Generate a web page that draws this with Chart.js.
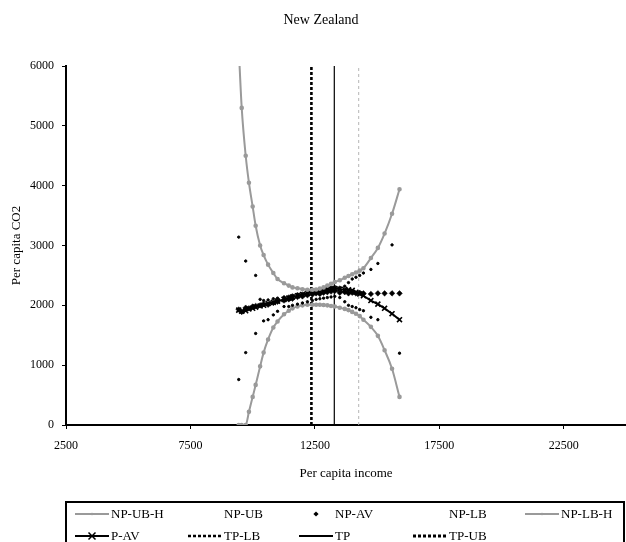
<!DOCTYPE html>
<html>
<head>
<meta charset="utf-8">
<title>New Zealand</title>
<script src="https://cdn.jsdelivr.net/npm/chart.js"></script>
<style>
  html, body { margin: 0; padding: 0; background: #fff; }
  #wrap { width: 626px; height: 542px; }
</style>
</head>
<body>
<div id="wrap"><canvas id="chart" width="626" height="542"></canvas></div>
<script>
/* ===== data ===== */
const income = [
  9440, 9560, 9720, 9850, 10000, 10120, 10300, 10440, 10620, 10830,
  11000, 11260, 11450, 11600, 11800, 12000, 12200, 12400, 12550, 12700,
  12850, 13000, 13150, 13300, 13500, 13700, 13850, 14000, 14150, 14300,
  14450, 14750, 15030, 15300, 15600, 15900
];
const npUbH = [
  6300, 5300, 4500, 4050, 3650, 3330, 3000, 2840, 2680, 2540,
  2440, 2370, 2330, 2300, 2285, 2270, 2260, 2260, 2265, 2280,
  2300, 2330, 2360, 2390, 2420, 2460, 2490, 2520, 2550, 2580,
  2620, 2790, 2960, 3200, 3530, 3940
];
const npUb = [
  3140, null, 2740, null, null, 2500, 2100, 2080, 2090, 2110,
  2120, 2140, 2150, 2170, 2190, 2200, 2220, 2240, 2260, 2270,
  2280, 2290, 2300, 2310, 2300, 2320, 2380, 2440, 2470, 2500,
  2540, 2600, 2700, null, 3010, null
];
const npAv = [
  1930, 1890, 1960, 1950, 1980, 1990, 2000, 2020, 2010, 2040,
  2060, 2080, 2100, 2110, 2140, 2150, 2170, 2180, 2200, 2190,
  2210, 2220, 2230, 2240, 2210, 2220, 2200, 2210, 2200, 2210,
  2200, 2190, 2200, 2200, 2200, 2200
];
const npLb = [
  760, null, 1210, null, null, 1530, null, 1740, 1760, 1840,
  1900, 1980, 1980, 2000, 2020, 2040, 2060, 2080, 2100, 2110,
  2120, 2130, 2140, 2150, 2130, 2060, 2000, 1980, 1960, 1930,
  1910, 1800, 1760, null, null, 1200
];
const npLbH = [
  0, 0, 0, 220, 470, 670, 980, 1210, 1430, 1630,
  1730, 1850, 1910, 1950, 1980, 2000, 2010, 2010, 2010, 2010,
  2005, 2000, 1990, 1980, 1960, 1940, 1920, 1890, 1860, 1820,
  1760, 1640, 1490, 1250, 940, 470
];
const pAv = [
  1920, 1900, 1910, 1940, 1950, 1970, 1990, 2000, 2030, 2050,
  2070, 2100, 2120, 2140, 2160, 2180, 2200, 2220, 2230, 2240,
  2250, 2260, 2270, 2280, 2270, 2265, 2260, 2250, 2220, 2190,
  2160, 2080, 2020, 1950, 1860, 1760
];
const turningPoints = [12360, 13280, 14260]; // TP-LB, TP, TP-UB
const xTicks = [2500, 7500, 12500, 17500, 22500];
const yTicks = [0, 1000, 2000, 3000, 4000, 5000, 6000];

/* ===== helpers ===== */
const GRAY = "#9a9a9a";
const FONT = "'Liberation Serif', 'Times New Roman', serif";

function pts(vals) {
  return income
    .map((x, i) => ({ x: x, y: vals[i] }))
    .filter((p) => p.y !== null);
}

function vline(x) {
  return [
    { x: x, y: yTicks[0] },
    { x: x, y: yTicks[yTicks.length - 1] },
  ];
}

// ========== LEGEND SYMBOLS ==========
function drawMarker(ctx, style, x, y, r, color) {
  ctx.save();
  ctx.fillStyle = color;
  ctx.strokeStyle = color;
  ctx.setLineDash([]);
  if (style === "rectRot") {
    ctx.beginPath();
    ctx.moveTo(x, y - r);
    ctx.lineTo(x + r, y);
    ctx.lineTo(x, y + r);
    ctx.lineTo(x - r, y);
    ctx.closePath();
    ctx.fill();
  } else if (style === "crossRot") {
    ctx.lineWidth = 1.5;
    ctx.beginPath();
    ctx.moveTo(x - r, y - r);
    ctx.lineTo(x + r, y + r);
    ctx.moveTo(x + r, y - r);
    ctx.lineTo(x - r, y + r);
    ctx.stroke();
  } else {
    ctx.beginPath();
    ctx.arc(x, y, r, 0, Math.PI * 2);
    ctx.fill();
  }
  ctx.restore();
}

const legendCols = [75, 188, 299, 413, 525];
const legendRows = [514, 536];

const boxLegend = {
  id: "boxLegend",
  afterDraw(chart) {
    const ctx = chart.ctx;
    ctx.save();

    // title
    ctx.fillStyle = "#000";
    ctx.font = "14px " + FONT;
    ctx.textAlign = "center";
    ctx.textBaseline = "middle";
    ctx.fillText("New Zealand", 321, 20);

    // legend frame
    ctx.strokeStyle = "#000";
    ctx.lineWidth = 2;
    ctx.strokeRect(66, 502, 558, 60);

    ctx.font = "13px " + FONT;
    ctx.textAlign = "left";
    chart.data.datasets.forEach((ds, i) => {
      const x0 = legendCols[i % 5];
      const y = legendRows[Math.floor(i / 5)];
      const w = 34;
      if (ds.showLine) {
        ctx.beginPath();
        ctx.strokeStyle = ds.legendColor || ds.borderColor;
        ctx.lineWidth = ds.legendWidth || ds.borderWidth;
        ctx.setLineDash(ds.legendDash || ds.borderDash || []);
        ctx.moveTo(x0, y);
        ctx.lineTo(x0 + w, y);
        ctx.stroke();
        ctx.setLineDash([]);
      }
      if (ds.legendMarker) {
        drawMarker(ctx, ds.pointStyle, x0 + w / 2, y, ds.legendMarker, ds.borderColor);
      }
      ctx.fillStyle = "#000";
      ctx.fillText(ds.label, x0 + 36, y + 1);
    });
    ctx.restore();
  },
};

// ========== CHART ==========
new Chart(document.getElementById("chart"), {
  type: "scatter",
  data: {
    datasets: [
      {
        label: "NP-UB-H",
        data: pts(npUbH),
        showLine: true,
        borderColor: GRAY,
        backgroundColor: GRAY,
        borderWidth: 2,
        pointRadius: 1.3,
        pointStyle: "circle",
        cubicInterpolationMode: "monotone",
        legendMarker: 1.2,
      },
      {
        label: "NP-UB",
        data: pts(npUb),
        showLine: false,
        borderColor: "#000",
        backgroundColor: "#000",
        pointRadius: 1.2,
        pointStyle: "circle",
      },
      {
        label: "NP-AV",
        data: pts(npAv),
        showLine: false,
        borderColor: "#000",
        backgroundColor: "#000",
        pointRadius: 2.8,
        borderWidth: 0.5,
        pointStyle: "rectRot",
        legendMarker: 2.6,
      },
      {
        label: "NP-LB",
        data: pts(npLb),
        showLine: false,
        borderColor: "#000",
        backgroundColor: "#000",
        pointRadius: 1.2,
        pointStyle: "circle",
      },
      {
        label: "NP-LB-H",
        data: pts(npLbH),
        showLine: true,
        borderColor: GRAY,
        backgroundColor: GRAY,
        borderWidth: 2,
        pointRadius: 1.3,
        pointStyle: "circle",
        cubicInterpolationMode: "monotone",
        legendMarker: 1.2,
      },
      {
        label: "P-AV",
        data: pts(pAv),
        showLine: true,
        borderColor: "#000",
        backgroundColor: "#000",
        borderWidth: 2,
        pointRadius: 3.5,
        pointBorderWidth: 1.6,
        pointStyle: "crossRot",
        legendMarker: 3.5,
      },
      {
        label: "TP-LB",
        data: vline(turningPoints[0]),
        showLine: true,
        borderColor: "#000",
        borderWidth: 2.6,
        borderDash: [3, 2],
        pointRadius: 0,
        legendDash: [3, 2],
      },
      {
        label: "TP",
        data: vline(turningPoints[1]),
        showLine: true,
        borderColor: "#000",
        borderWidth: 1.2,
        pointRadius: 0,
        legendWidth: 2,
      },
      {
        label: "TP-UB",
        data: vline(turningPoints[2]),
        showLine: true,
        borderColor: "#b5b5b5",
        borderWidth: 1,
        borderDash: [3, 3],
        pointRadius: 0,
        legendColor: "#000",
        legendWidth: 3,
        legendDash: [3, 2],
      },
    ],
  },
  options: {
    responsive: false,
    animation: false,
    devicePixelRatio: 1,
    layout: { autoPadding: false, padding: { top: 66, right: 0, bottom: 57, left: 0 } },
    plugins: {
      legend: { display: false },
      title: { display: false },
      tooltip: { enabled: false },
    },
    scales: {
      x: {
        type: "linear",
        min: 2500,
        max: 25000,
        afterBuildTicks: (scale) => {
          scale.ticks = xTicks.map((v) => ({ value: v }));
        },
        afterFit: (scale) => {
          scale.height = 60;
          scale.paddingLeft = 0;
          scale.paddingRight = 0;
        },
        border: { color: "#000", width: 2 },
        grid: { drawOnChartArea: false, drawTicks: true, tickLength: 4, color: "#000" },
        ticks: {
          color: "#000",
          padding: 10,
          maxRotation: 0,
          font: { family: FONT, size: 12 },
          callback: (v) => String(v),
        },
        title: {
          display: true,
          text: "Per capita income",
          color: "#000",
          padding: { top: 0, bottom: 4 },
          font: { family: FONT, size: 13 },
        },
      },
      y: {
        type: "linear",
        min: 0,
        max: 6000,
        afterBuildTicks: (scale) => {
          scale.ticks = yTicks.map((v) => ({ value: v }));
        },
        afterFit: (scale) => {
          scale.width = 66;
        },
        border: { color: "#000", width: 2 },
        grid: { drawOnChartArea: false, drawTicks: true, tickLength: 4, color: "#000" },
        ticks: {
          color: "#000",
          padding: 8,
          font: { family: FONT, size: 12 },
          callback: (v) => String(v),
        },
        title: {
          display: true,
          text: "Per capita CO2",
          color: "#000",
          padding: { top: 9, bottom: 0 },
          font: { family: FONT, size: 13 },
        },
      },
    },
  },
  plugins: [boxLegend],
});
</script>
</body>
</html>
